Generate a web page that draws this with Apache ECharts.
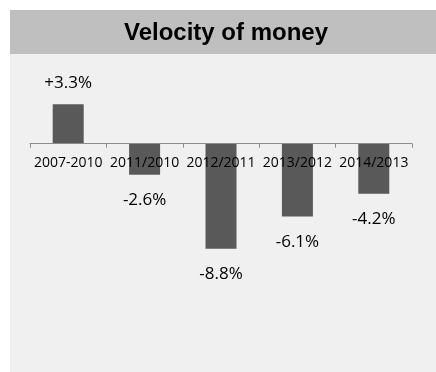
<!DOCTYPE html>
<html><head><meta charset="utf-8">
<script src="https://cdn.jsdelivr.net/npm/echarts@6/dist/echarts.min.js"></script>
<style>html,body{margin:0;padding:0;background:#fff}#c{width:436px;height:372px}</style>
</head><body><div id="c"></div>
<script>
const categories = ['2007-2010','2011/2010','2012/2011','2013/2012','2014/2013'];
const values = [3.3, -2.6, -8.8, -6.1, -4.2];
const valueLabels = ['+3.3%','-2.6%','-8.8%','-6.1%','-4.2%'];
const titleText = 'Velocity of money';

const yMin = -10, yMax = 4;
const gridTop = 96, gridHeight = 167;
const zeroOffset = -gridHeight * (0 - yMin) / (yMax - yMin);

const chart = echarts.init(document.getElementById('c'), null, {renderer:'canvas'});
chart.setOption({
  backgroundColor: '#ffffff',
  animation: false,
  graphic: [
    {type:'rect', z:-10, shape:{x:10,y:54,width:432,height:318}, style:{fill:'#f0f0f0'}},
    {type:'rect', z:-10, shape:{x:10,y:10,width:432,height:44}, style:{fill:'#bfbfbf'}},
    {type:'text', z:10, x:226, y:33, style:{text:titleText, font:'bold 24px "Liberation Sans", Arial, sans-serif', fill:'#000', textAlign:'center', textVerticalAlign:'middle'}}
  ],
  grid: {left:30, right:24, top:gridTop, height:gridHeight, containLabel:false},
  xAxis: {
    type:'category', data:categories, position:'bottom', offset: zeroOffset, z: 10,
    axisLine:{onZero:false, lineStyle:{color:'#8c8c8c', width:1}},
    axisTick:{show:true, alignWithLabel:false, length:4, inside:false, lineStyle:{color:'#8c8c8c'}},
    axisLabel:{interval:0, color:'#000', fontSize:14, fontFamily:'"Open Sans", sans-serif', margin:12}
  },
  yAxis: {type:'value', min:yMin, max:yMax, show:false, splitLine:{show:false}},
  series: [{
    type:'bar', barWidth:31, z: 2,
    data: values.map(v => ({value:v, label:{distance: v >= 0 ? 13 : 17}})),
    itemStyle:{color:'#595959'},
    label:{show:true, position:'outside', color:'#000', fontSize:17, fontFamily:'"Open Sans", sans-serif',
      formatter: p => valueLabels[p.dataIndex]}
  }]
});
</script></body></html>
